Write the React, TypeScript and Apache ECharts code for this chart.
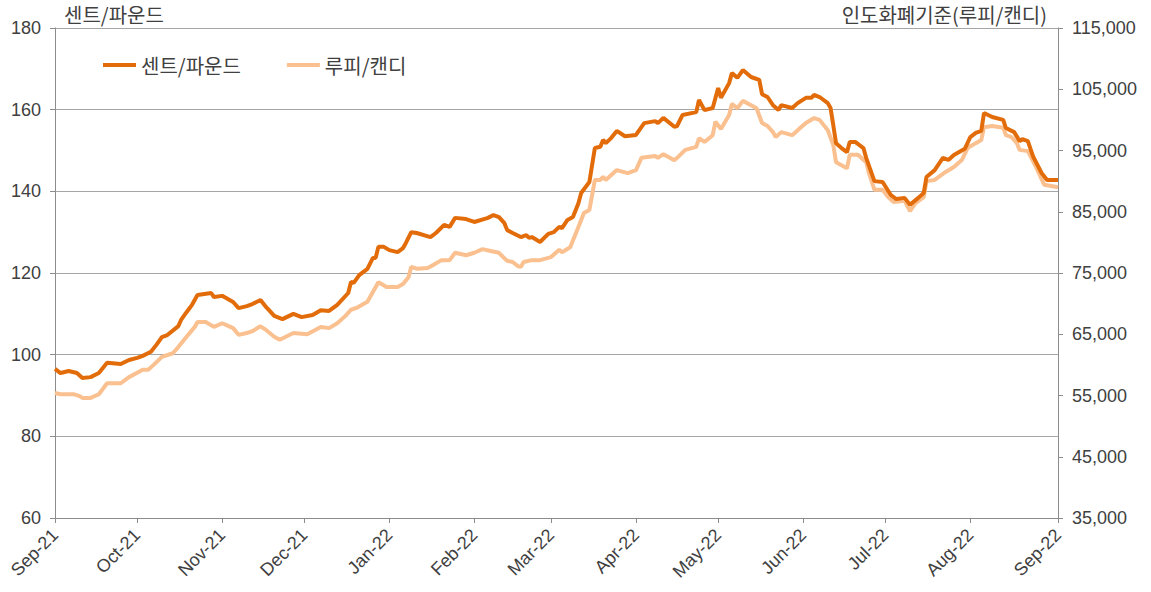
import React, { useEffect, useRef } from "react";
import * as echarts from "echarts";

const leftTitle = "센트/파운드";
const rightTitle = "인도화폐기준(루피/캔디)";
const seriesNames = ["센트/파운드", "루피/캔디"];
const monthNames = ["Jan", "Feb", "Mar", "Apr", "May", "Jun", "Jul", "Aug", "Sep", "Oct", "Nov", "Dec"];

const centDates = [
  "2021-09-01", "2021-09-03", "2021-09-06", "2021-09-09", "2021-09-11", "2021-09-14", "2021-09-17", "2021-09-20",
  "2021-09-25", "2021-09-28", "2021-10-01", "2021-10-03", "2021-10-06", "2021-10-08", "2021-10-10", "2021-10-12",
  "2021-10-16", "2021-10-17", "2021-10-19", "2021-10-21", "2021-10-23", "2021-10-28", "2021-10-29", "2021-11-01",
  "2021-11-05", "2021-11-07", "2021-11-10", "2021-11-12", "2021-11-15", "2021-11-17", "2021-11-20", "2021-11-23",
  "2021-11-27", "2021-11-30", "2021-12-04", "2021-12-07", "2021-12-10", "2021-12-13", "2021-12-17", "2021-12-18",
  "2021-12-19", "2021-12-21", "2021-12-24", "2021-12-26", "2021-12-27", "2021-12-28", "2021-12-30", "2022-01-01",
  "2022-01-04", "2022-01-06", "2022-01-07", "2022-01-09", "2022-01-11", "2022-01-16", "2022-01-18", "2022-01-21",
  "2022-01-23", "2022-01-25", "2022-01-29", "2022-02-01", "2022-02-06", "2022-02-08", "2022-02-10", "2022-02-12",
  "2022-02-13", "2022-02-15", "2022-02-18", "2022-02-20", "2022-02-21", "2022-02-22", "2022-02-25", "2022-02-28",
  "2022-03-02", "2022-03-04", "2022-03-05", "2022-03-07", "2022-03-09", "2022-03-11", "2022-03-12", "2022-03-15",
  "2022-03-17", "2022-03-19", "2022-03-20", "2022-03-21", "2022-03-23", "2022-03-25", "2022-03-28", "2022-04-01",
  "2022-04-04", "2022-04-08", "2022-04-09", "2022-04-11", "2022-04-15", "2022-04-16", "2022-04-18", "2022-04-23",
  "2022-04-24", "2022-04-26", "2022-04-29", "2022-05-01", "2022-05-02", "2022-05-05", "2022-05-06", "2022-05-08",
  "2022-05-10", "2022-05-13", "2022-05-16", "2022-05-17", "2022-05-19", "2022-05-21", "2022-05-23", "2022-05-24",
  "2022-05-28", "2022-05-30", "2022-06-02", "2022-06-04", "2022-06-05", "2022-06-07", "2022-06-10", "2022-06-11",
  "2022-06-12", "2022-06-13", "2022-06-15", "2022-06-17", "2022-06-18", "2022-06-20", "2022-06-23", "2022-06-24",
  "2022-06-27", "2022-06-30", "2022-07-03", "2022-07-05", "2022-07-08", "2022-07-10", "2022-07-13", "2022-07-15",
  "2022-07-16", "2022-07-19", "2022-07-22", "2022-07-24", "2022-07-26", "2022-07-30", "2022-08-01", "2022-08-03",
  "2022-08-05", "2022-08-06", "2022-08-09", "2022-08-13", "2022-08-14", "2022-08-17", "2022-08-19", "2022-08-20",
  "2022-08-22", "2022-08-24", "2022-08-27", "2022-08-29", "2022-09-02",
];
const centValues = [
  96.5, 95.5, 96.0, 95.5, 94.3, 94.5, 95.5, 98.0,
  97.7, 98.7, 99.2, 99.7, 100.7, 102.4, 104.3, 104.8,
  107.0, 108.5, 110.4, 112.2, 114.6, 115.1, 114.1, 114.4,
  112.9, 111.4, 111.9, 112.4, 113.4, 111.7, 109.5, 108.7,
  110.0, 109.2, 109.7, 110.9, 110.7, 112.2, 115.1, 117.8,
  117.6, 119.5, 121.0, 123.7, 123.7, 126.4, 126.4, 125.6,
  125.1, 126.1, 127.3, 130.0, 129.8, 128.8, 129.8, 131.8,
  131.3, 133.5, 133.2, 132.5, 133.5, 134.2, 133.7, 132.2,
  130.5, 129.8, 128.8, 129.3, 128.6, 128.8, 127.6, 129.6,
  130.0, 131.3, 131.0, 133.0, 133.7, 137.1, 139.6, 142.3,
  150.6, 150.9, 152.6, 151.8, 153.1, 154.8, 153.5, 153.8,
  156.7, 157.2, 156.7, 158.0, 155.8, 156.0, 158.7, 159.4,
  162.4, 159.9, 160.4, 165.3, 162.9, 166.5, 169.0, 167.8,
  169.7, 168.0, 167.3, 163.8, 163.1, 161.1, 159.9, 161.1,
  160.4, 161.6, 162.9, 162.9, 163.6, 163.1, 161.6, 160.4,
  156.2, 151.8, 150.6, 149.6, 152.1, 152.1, 150.6, 148.2,
  142.5, 142.3, 139.1, 138.1, 138.4, 136.7, 138.4, 139.6,
  143.5, 145.2, 148.2, 147.7, 148.9, 150.4, 153.3, 154.3,
  154.8, 159.2, 158.2, 157.5, 155.5, 154.5, 152.3, 152.8,
  152.3, 148.4, 144.5, 142.8, 142.8,
];

const rupeeDates = [
  "2021-09-01", "2021-09-03", "2021-09-08", "2021-09-10", "2021-09-11", "2021-09-14", "2021-09-17", "2021-09-20",
  "2021-09-25", "2021-09-28", "2021-10-01", "2021-10-03", "2021-10-05", "2021-10-07", "2021-10-10", "2021-10-14",
  "2021-10-16", "2021-10-19", "2021-10-22", "2021-10-23", "2021-10-26", "2021-10-29", "2021-11-01", "2021-11-05",
  "2021-11-07", "2021-11-10", "2021-11-12", "2021-11-15", "2021-11-17", "2021-11-20", "2021-11-22", "2021-11-27",
  "2021-12-02", "2021-12-07", "2021-12-10", "2021-12-13", "2021-12-16", "2021-12-18", "2021-12-20", "2021-12-24",
  "2021-12-26", "2021-12-28", "2021-12-31", "2022-01-04", "2022-01-06", "2022-01-08", "2022-01-09", "2022-01-11",
  "2022-01-15", "2022-01-17", "2022-01-20", "2022-01-23", "2022-01-25", "2022-01-29", "2022-02-01", "2022-02-04",
  "2022-02-07", "2022-02-10", "2022-02-12", "2022-02-13", "2022-02-15", "2022-02-17", "2022-02-18", "2022-02-19",
  "2022-02-22", "2022-02-25", "2022-03-01", "2022-03-04", "2022-03-05", "2022-03-08", "2022-03-11", "2022-03-13",
  "2022-03-15", "2022-03-17", "2022-03-19", "2022-03-20", "2022-03-21", "2022-03-25", "2022-03-29", "2022-04-01",
  "2022-04-03", "2022-04-08", "2022-04-09", "2022-04-11", "2022-04-15", "2022-04-16", "2022-04-19", "2022-04-23",
  "2022-04-24", "2022-04-26", "2022-04-29", "2022-04-30", "2022-05-02", "2022-05-05", "2022-05-06", "2022-05-08",
  "2022-05-10", "2022-05-13", "2022-05-15", "2022-05-17", "2022-05-19", "2022-05-21", "2022-05-22", "2022-05-24",
  "2022-05-28", "2022-05-31", "2022-06-02", "2022-06-05", "2022-06-07", "2022-06-10", "2022-06-12", "2022-06-13",
  "2022-06-17", "2022-06-18", "2022-06-21", "2022-06-24", "2022-06-25", "2022-06-27", "2022-06-30", "2022-07-02",
  "2022-07-04", "2022-07-08", "2022-07-10", "2022-07-12", "2022-07-15", "2022-07-16", "2022-07-19", "2022-07-23",
  "2022-07-26", "2022-07-29", "2022-07-31", "2022-08-03", "2022-08-05", "2022-08-06", "2022-08-09", "2022-08-13",
  "2022-08-14", "2022-08-16", "2022-08-18", "2022-08-19", "2022-08-22", "2022-08-25", "2022-08-28", "2022-09-02",
];
const rupeeValues = [
  55400, 55200, 55200, 54900, 54600, 54600, 55200, 57000,
  57000, 58000, 58700, 59200, 59200, 60000, 61300, 61900,
  62900, 64600, 66200, 67000, 67000, 66200, 66800, 66000,
  64900, 65200, 65500, 66300, 65700, 64600, 64100, 65200,
  65000, 66200, 66000, 66800, 68000, 69000, 69300, 70300,
  71900, 73500, 72700, 72700, 73200, 74300, 76000, 75700,
  75800, 76300, 77100, 77100, 78300, 77900, 78300, 78900,
  78600, 78300, 77400, 77000, 76800, 76100, 76000, 76800,
  77100, 77100, 77600, 78800, 78400, 79200, 82500, 84800,
  85300, 90200, 90200, 90700, 90200, 91800, 91300, 91800,
  93800, 94100, 93800, 94400, 93400, 93800, 95100, 95600,
  97000, 96400, 97500, 99700, 98500, 100800, 102600, 101900,
  103100, 102400, 101900, 99500, 99000, 98000, 97200, 98000,
  97500, 98700, 99500, 100300, 100000, 98300, 95900, 93100,
  92100, 94300, 94300, 93100, 91300, 88600, 88600, 87400,
  86600, 86800, 85100, 86400, 87400, 90000, 90200, 91500,
  92300, 93500, 95400, 96200, 96700, 98800, 99000, 98700,
  97500, 97200, 96200, 95100, 94900, 92300, 89400, 89000,
];

const xStart = "2021-09-01";
const xEnd = "2022-09-02";
const leftMin = 60, leftMax = 180, leftStep = 20;
const rightMin = 35000, rightMax = 115000, rightStep = 10000;

const FONT = "'Liberation Sans', Arial, 'Noto Sans CJK KR', sans-serif";
const KFONT = "'Noto Sans CJK KR', 'Liberation Sans', sans-serif";
const TEXT = "#404040";
const AXIS = "#8c8c8c";
const GRID = "#a6a6a6";
const DARK = "#E36C0A";
const LIGHT = "#FAC08F";

export default function App() {
  const ref = useRef<HTMLDivElement>(null);
  useEffect(() => {
    if (!ref.current) return;
    const chart = echarts.init(ref.current, undefined, { renderer: "svg" });
    const day = 86400000;
    chart.setOption({
      animation: false,
      backgroundColor: "#ffffff",
      textStyle: { fontFamily: FONT },
      grid: { left: 55, right: 93, top: 28, bottom: 74, containLabel: false },
      legend: {
        left: 103,
        top: 55,
        padding: 0,
        icon: "rect",
        itemWidth: 33,
        itemHeight: 4,
        itemGap: 46,
        data: seriesNames,
        textStyle: { fontSize: 20, color: TEXT, fontFamily: KFONT },
      },
      graphic: [
        {
          type: "text",
          x: 64,
          y: 14,
          style: { text: leftTitle, fontSize: 20, fill: TEXT, fontFamily: KFONT, verticalAlign: "middle", align: "left" },
        },
        {
          type: "text",
          x: 1047,
          y: 14,
          style: { text: rightTitle, fontSize: 20, fill: TEXT, fontFamily: KFONT, verticalAlign: "middle", align: "right" },
        },
      ],
      xAxis: {
        type: "time",
        min: xStart,
        max: xEnd,
        splitNumber: 12,
        minInterval: 28 * day,
        maxInterval: 31 * day,
        axisLine: { show: true, lineStyle: { color: AXIS, width: 1 } },
        axisTick: { show: true, length: 5, lineStyle: { color: AXIS } },
        splitLine: { show: false },
        axisLabel: {
          rotate: 45,
          margin: 14,
          fontSize: 18,
          color: TEXT,
          fontFamily: FONT,
          hideOverlap: false,
          showMinLabel: true,
          showMaxLabel: true,
          formatter: (v: number) => {
            const d = new Date(v);
            return monthNames[d.getMonth()] + "-" + String(d.getFullYear()).slice(2);
          },
        },
      },
      yAxis: [
        {
          type: "value",
          min: leftMin,
          max: leftMax,
          interval: leftStep,
          position: "left",
          axisLine: { show: true, lineStyle: { color: AXIS } },
          axisTick: { show: true, length: 5, lineStyle: { color: AXIS } },
          splitLine: { show: true, lineStyle: { color: GRID, width: 1 } },
          axisLabel: { fontSize: 18, color: TEXT, margin: 14, fontFamily: FONT },
        },
        {
          type: "value",
          min: rightMin,
          max: rightMax,
          interval: rightStep,
          position: "right",
          axisLine: { show: true, lineStyle: { color: AXIS } },
          axisTick: { show: true, length: 5, lineStyle: { color: AXIS } },
          splitLine: { show: false },
          axisLabel: {
            fontSize: 18,
            color: TEXT,
            margin: 14,
            fontFamily: FONT,
            formatter: (v: number) => v.toLocaleString("en-US"),
          },
        },
      ],
      series: [
        {
          name: seriesNames[1],
          type: "line",
          yAxisIndex: 1,
          showSymbol: false,
          symbol: "none",
          z: 2,
          lineStyle: { color: LIGHT, width: 4 },
          itemStyle: { color: LIGHT },
          data: rupeeDates.map((d, i) => [d, rupeeValues[i]]),
        },
        {
          name: seriesNames[0],
          type: "line",
          yAxisIndex: 0,
          showSymbol: false,
          symbol: "none",
          z: 3,
          lineStyle: { color: DARK, width: 4 },
          itemStyle: { color: DARK },
          data: centDates.map((d, i) => [d, centValues[i]]),
        },
      ],
    });
    return () => chart.dispose();
  }, []);
  return <div ref={ref} style={{ position: "fixed", left: 0, top: 0, width: 1151, height: 592 }} />;
}
